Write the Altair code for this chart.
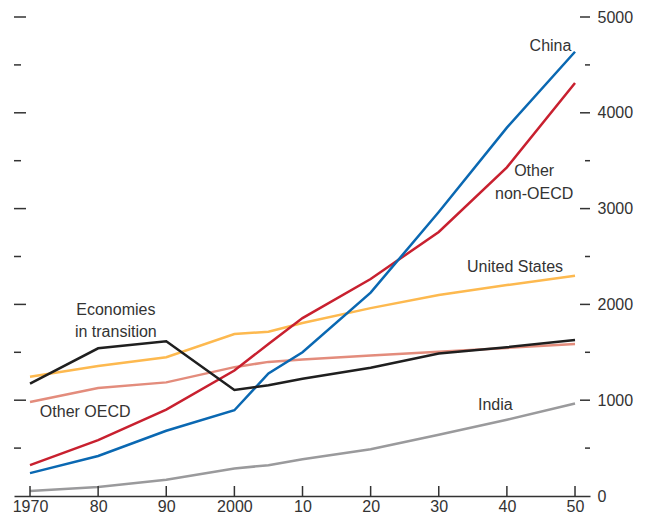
import altair as alt
import pandas as pd

# ---- data ----
years = [1970, 1980, 1990, 2000, 2005, 2010, 2020, 2030, 2040, 2050]
china = [239, 418, 681, 895, 1279, 1501, 2123, 2965, 3845, 4637]
other_non_oecd = [322, 584, 902, 1310, 1587, 1857, 2265, 2756, 3430, 4312]
united_states = [1245, 1356, 1449, 1691, 1715, 1805, 1961, 2099, 2202, 2300]
other_oecd = [982, 1128, 1186, 1345, 1400, 1424, 1466, 1507, 1546, 1587]
transition = [1172, 1542, 1615, 1107, 1155, 1224, 1338, 1487, 1553, 1629]
india = [52, 93, 169, 287, 322, 384, 488, 640, 796, 965]

series_names = ["India", "Other OECD", "United States", "Other non-OECD", "China", "Economies in transition"]
series_values = [india, other_oecd, united_states, other_non_oecd, china, transition]
series_colors = ["#9a9a9c", "#e38c7c", "#fdb94f", "#c8202f", "#0a68b2", "#1f1f1f"]

x_tick_years = [1970, 1980, 1990, 2000, 2010, 2020, 2030, 2040, 2050]
x_tick_labels = ["1970", "80", "90", "2000", "10", "20", "30", "40", "50"]
y_label_values = [0, 1000, 2000, 3000, 4000, 5000]
y_tick_values = list(range(0, 5001, 500))

ann_text = ["China", "Other", "non-OECD", "United States", "India", "Economies", "in transition", "Other OECD"]
ann_year = [2046.4, 2044.0, 2044.0, 2041.2, 2038.3, 1982.6, 1982.6, 1978.1]
ann_value = [4699, 3392, 3154, 2386, 947, 1937, 1712, 882]

# ---- tables ----
rows = []
for name, vals in zip(series_names, series_values):
    for yr, v in zip(years, vals):
        rows.append({"series": name, "year": yr, "value": v})
df = pd.DataFrame(rows)
tick_df = pd.DataFrame({"v": y_tick_values})
xtick_df = pd.DataFrame({"year": x_tick_years})
ann_df = pd.DataFrame({"label": ann_text, "year": ann_year, "value": ann_value})

W, H = 576, 479
AX = "#333333"
FONT = "Liberation Sans"

xscale = alt.Scale(domain=[1967.65, 2052.2], nice=False, zero=False)
yscale = alt.Scale(domain=[0, 5000], nice=False)

label_expr = " : ".join(f"datum.value == {y} ? '{l}'" for y, l in zip(x_tick_years, x_tick_labels)) + " : ''"

x_axis = alt.Axis(values=x_tick_years, labelExpr=label_expr, ticks=False, domain=True,
                  domainColor=AX, domainWidth=1.5, grid=False, labelFontSize=16,
                  labelColor=AX, labelFont=FONT, labelPadding=2, labelFlush=False, title=None)
y_axis = alt.Axis(orient="right", values=y_label_values, format="d", ticks=False, domain=False, grid=False,
                  labelPadding=7, labelFontSize=16, labelColor=AX, labelFont=FONT, title=None)

lines = alt.Chart(df).mark_line(strokeWidth=2.5).encode(
    x=alt.X("year:Q", scale=xscale, title=None, axis=x_axis),
    y=alt.Y("value:Q", scale=yscale, title=None, axis=y_axis),
    color=alt.Color("series:N", scale=alt.Scale(domain=series_names, range=series_colors), legend=None),
    order=alt.Order("year:Q"),
)

def yrule(cond, x1, x2):
    return alt.Chart(tick_df).transform_filter(cond).mark_rule(color=AX, strokeWidth=1.5).encode(
        y=alt.Y("v:Q", scale=yscale, title=None, axis=y_axis), x=alt.value(x1), x2=alt.value(x2))

left_major = yrule("datum.v % 1000 == 0 && datum.v > 0", 0, 12)
left_minor = yrule("datum.v % 1000 != 0", 0, 7)
right_major = yrule("datum.v % 1000 == 0 && datum.v > 0", W - 10, W)
right_minor = yrule("datum.v % 1000 != 0", W - 5, W)

xticks = alt.Chart(xtick_df).mark_rule(color=AX, strokeWidth=1.5).encode(
    x=alt.X("year:Q", scale=xscale, title=None, axis=x_axis), y=alt.value(H - 10), y2=alt.value(H))

ann = alt.Chart(ann_df).mark_text(font=FONT, fontSize=16, color=AX, align="center", baseline="middle").encode(
    x=alt.X("year:Q", scale=xscale, title=None, axis=x_axis),
    y=alt.Y("value:Q", scale=yscale, title=None, axis=y_axis),
    text="label:N",
)

chart = alt.layer(lines, left_major, left_minor, right_major, right_minor, xticks, ann).properties(
    width=W, height=H,
    autosize=alt.AutoSizeParams(type="none"),
    padding={"left": 6, "top": 9, "right": 48, "bottom": 21},
).configure(background="white").configure_view(stroke=None)

chart.save("out.html", embed_options={"renderer": "svg", "actions": False})
